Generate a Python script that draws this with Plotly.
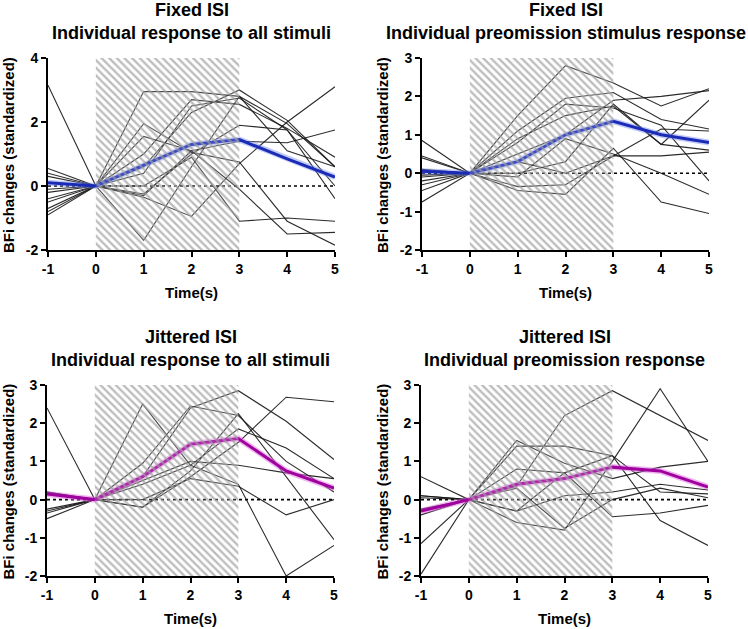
import plotly.graph_objects as go

W, H = 748, 629

time = [-1, 0, 1, 2, 3, 4, 5]
x_ticks = [-1, 0, 1, 2, 3, 4, 5]
x_tick_text = ["-1", "0", "1", "2", "3", "4", "5"]
stim_window = [0, 3]

# Panel 1: Fixed ISI, all stimuli
fixed_all_lines = [
    [3.15, 0, 2.95, 2.95, 2.80, 1.95, 0.60],
    [0.55, 0, 1.95, 1.05, 0.75, -1.10, -1.85],
    [0.40, 0, 1.55, 1.10, 1.40, 1.35, 1.75],
    [0.30, 0, 1.00, 2.70, 2.55, 1.80, 0.90],
    [-0.10, 0, 0.60, 2.30, 3.00, 2.05, 0.60],
    [-0.20, 0, 0.40, 2.50, 2.75, 1.75, -0.40],
    [-0.40, 0, -0.25, 1.00, 1.90, 1.75, 0.00],
    [-0.50, 0, -0.35, -0.95, 0.70, 2.00, 3.10],
    [-0.70, 0, -1.70, 0.60, 2.80, 1.10, 0.60],
    [-0.80, 0, -0.30, 1.10, -0.10, -1.50, -1.45],
    [-0.90, 0, 0.00, 0.90, -1.10, -1.00, -1.10],
]
fixed_all_mean = [0.10, 0, 0.65, 1.30, 1.45, 0.85, 0.28]

# Panel 2: Fixed ISI, preomission stimulus
fixed_pre_lines = [
    [0.85, 0, 1.50, 2.80, 2.35, 1.75, 2.20],
    [0.45, 0, 1.10, 1.95, 2.10, 1.40, 1.15],
    [0.40, 0, 0.80, 1.80, 1.70, 1.25, -0.20],
    [-0.10, 0, 0.50, 1.00, 1.90, 2.00, 2.15],
    [-0.20, 0, -0.10, 0.90, 0.50, 0.00, -0.55],
    [-0.30, 0, -0.35, -0.30, 0.45, 1.15, 1.10],
    [-0.45, 0, -0.45, -0.55, 0.65, -0.75, -1.05],
    [-0.75, 0, 0.00, 0.30, 1.80, 0.75, 0.60],
    [0.10, 0, 0.30, 0.00, 0.45, 0.45, 0.55],
    [-0.05, 0, 0.90, 1.50, 1.75, 0.75, 1.90],
]
fixed_pre_mean = [0.05, 0, 0.30, 1.00, 1.35, 1.00, 0.80]

# Panel 3: Jittered ISI, all stimuli
jit_all_lines = [
    [2.40, 0, 2.50, 0.90, 0.40, -2.00, -1.20],
    [0.20, 0, 0.95, 2.45, 2.20, 1.00, 0.20],
    [-0.25, 0, 0.60, 2.40, 2.85, 2.05, 1.05],
    [-0.30, 0, 0.50, 1.00, 0.90, 0.70, 0.55],
    [-0.35, 0, -0.20, 0.60, 1.50, 2.68, 2.56],
    [-0.50, 0, -0.20, 0.75, 2.25, 0.60, -1.05],
    [0.15, 0, 0.00, 0.55, 0.35, -0.40, 0.00],
    [0.20, 0, 0.40, 0.90, 1.85, 1.35, 0.55],
]
jit_all_mean = [0.15, 0, 0.60, 1.45, 1.60, 0.75, 0.30]

# Panel 4: Jittered ISI, preomission
jit_pre_lines = [
    [0.60, 0, 0.35, 2.20, 2.85, 2.20, 1.55],
    [-1.95, 0, -0.60, -0.80, 1.00, 2.90, 1.00],
    [0.10, 0, 1.55, 0.95, 0.55, 0.85, 1.00],
    [0.05, 0, 1.40, 1.40, 1.15, 0.20, 0.15],
    [-0.40, 0, 0.80, 0.70, -0.45, -0.35, -0.15],
    [-1.15, 0, -0.30, 0.10, 0.20, 0.40, 0.25],
    [0.10, 0, -0.30, 0.70, 1.15, -0.55, -1.20],
    [-0.25, 0, 0.30, -0.75, 0.00, 0.30, 0.05],
]
jit_pre_mean = [-0.30, 0, 0.40, 0.55, 0.85, 0.75, 0.33]

titles = [
    ["Fixed ISI", "Individual response to all stimuli"],
    ["Fixed ISI", "Individual preomission stimulus response"],
    ["Jittered ISI", "Individual response to all stimuli"],
    ["Jittered ISI", "Individual preomission response"],
]
y_ranges = [[-2, 4], [-2, 3], [-2, 3], [-2, 3]]
y_dticks = [2, 1, 1, 1]
mean_colors = ["#1a2bb8", "#1a2bb8", "#a0009e", "#a0009e"]
halo_colors = ["rgba(120,140,235,0.45)", "rgba(120,140,235,0.45)",
               "rgba(225,110,225,0.5)", "rgba(225,110,225,0.5)"]
panels_lines = [fixed_all_lines, fixed_pre_lines, jit_all_lines, jit_pre_lines]
panels_mean = [fixed_all_mean, fixed_pre_mean, jit_all_mean, jit_pre_mean]

# panel pixel boxes: (left, right, top, bottom)
boxes = [(48, 335, 58, 250), (422, 709, 58, 250),
         (47, 334, 385, 576), (421, 708, 385, 576)]

FONT = "Liberation Sans, Arial, Helvetica, sans-serif"


def px(xw):
    return xw / W


def py(yw):
    return 1 - yw / H


fig = go.Figure()
layout_axes = {}
annotations = []

for i in range(4):
    xa = "x" if i == 0 else f"x{i+1}"
    ya = "y" if i == 0 else f"y{i+1}"
    l, r, t, b = boxes[i]
    yr = y_ranges[i]

    # zero reference line
    fig.add_trace(go.Scatter(x=[time[0], time[-1]], y=[0, 0], mode="lines",
                             line=dict(color="black", width=1.6, dash="dot"),
                             xaxis=xa, yaxis=ya, showlegend=False, hoverinfo="skip"))
    for ln in panels_lines[i]:
        fig.add_trace(go.Scatter(x=time, y=ln, mode="lines",
                                 line=dict(color="rgba(25,25,25,0.92)", width=1.1),
                                 xaxis=xa, yaxis=ya, showlegend=False))
    fig.add_trace(go.Scatter(x=time, y=panels_mean[i], mode="lines",
                             line=dict(color=halo_colors[i], width=6),
                             xaxis=xa, yaxis=ya, showlegend=False, hoverinfo="skip"))
    fig.add_trace(go.Scatter(x=time, y=panels_mean[i], mode="lines",
                             line=dict(color=mean_colors[i], width=3),
                             xaxis=xa, yaxis=ya, showlegend=False))
    # hatched stimulus window drawn on top
    s0, s1 = stim_window
    fig.add_trace(go.Scatter(x=[s0, s1, s1, s0, s0], y=[yr[0], yr[0], yr[1], yr[1], yr[0]],
                             mode="none", fill="toself", fillcolor="rgba(255,255,255,0)",
                             fillpattern=dict(shape="\\", fgcolor="rgba(160,160,160,0.7)",
                                              bgcolor="rgba(255,255,255,0.15)",
                                              size=5.4, solidity=0.42, fillmode="replace"),
                             xaxis=xa, yaxis=ya, showlegend=False, hoverinfo="skip"))

    ticks_y = list(range(yr[0], yr[1] + 1, y_dticks[i]))
    axis_common = dict(showgrid=False, zeroline=False, showline=True, linecolor="black",
                       linewidth=2, ticks="outside", ticklen=5, tickwidth=2, tickcolor="black",
                       automargin=False,
                       tickfont=dict(family=FONT, size=14, color="black", weight="bold"))
    layout_axes["xaxis" if i == 0 else f"xaxis{i+1}"] = dict(
        domain=[px(l), px(r)], range=[time[0], time[-1]], anchor=ya,
        tickvals=x_ticks, ticktext=x_tick_text, **axis_common)
    layout_axes["yaxis" if i == 0 else f"yaxis{i+1}"] = dict(
        domain=[py(b), py(t)], range=yr, anchor=xa,
        tickvals=ticks_y, ticktext=[str(v) for v in ticks_y], **axis_common)

    cx = (l + r) / 2
    t1y = 10 if i < 2 else 337
    annotations.append(dict(text=titles[i][0], x=px(cx), y=py(t1y), xref="paper", yref="paper",
                            showarrow=False, xanchor="center", yanchor="middle",
                            font=dict(family=FONT, size=18, color="black", weight="bold")))
    annotations.append(dict(text=titles[i][1], x=px(cx), y=py(t1y + 23), xref="paper", yref="paper",
                            showarrow=False, xanchor="center", yanchor="middle",
                            font=dict(family=FONT, size=18, color="black", weight="bold")))
    annotations.append(dict(text="Time(s)", x=px(cx), y=py(b + 42), xref="paper", yref="paper",
                            showarrow=False, xanchor="center", yanchor="middle",
                            font=dict(family=FONT, size=15, color="black", weight="bold")))
    annotations.append(dict(text="BFi changes (standardized)", x=px(l - 39), y=py((t + b) / 2 + 1),
                            xref="paper", yref="paper", textangle=-90,
                            showarrow=False, xanchor="center", yanchor="middle",
                            font=dict(family=FONT, size=15, color="black", weight="bold")))

fig.update_layout(width=W, height=H, margin=dict(l=0, r=0, t=0, b=0, autoexpand=False),
                  paper_bgcolor="white", plot_bgcolor="white",
                  annotations=annotations, showlegend=False, **layout_axes)

# remove the browser's default 8px page margin so the figure fills the window
fig.write_html("out.html", config={"displayModeBar": False},
               post_script="document.body.style.margin='0px';document.body.style.overflow='hidden';")
